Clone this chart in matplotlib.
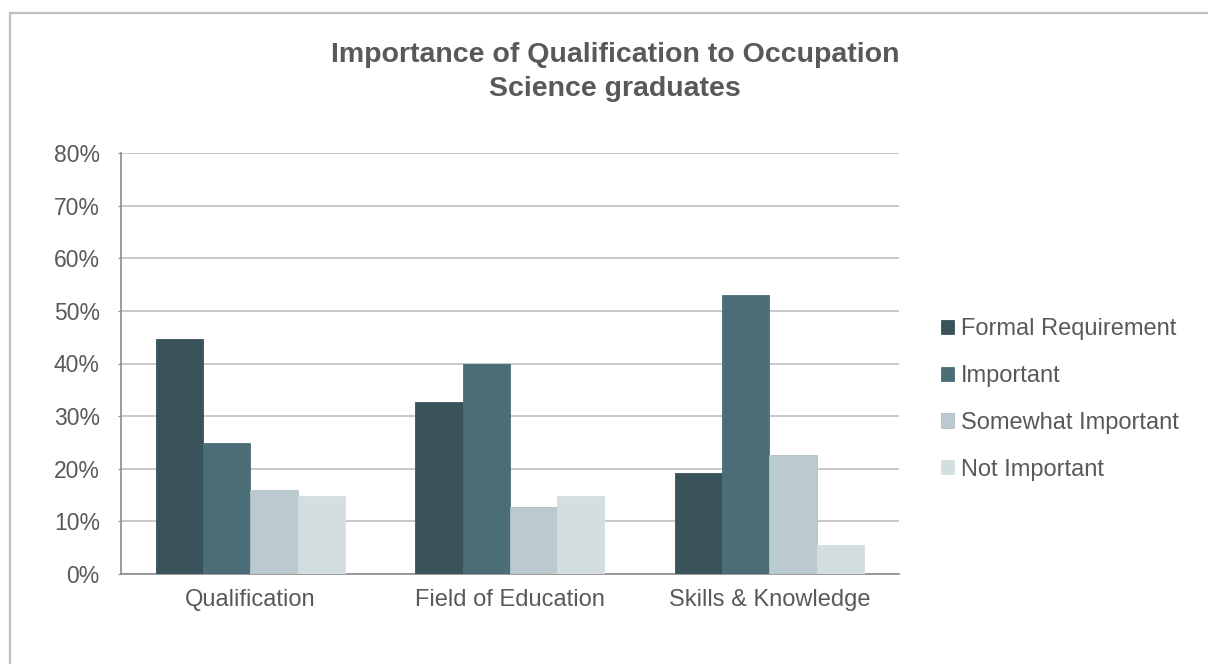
import matplotlib
matplotlib.use("Agg")
import matplotlib.pyplot as plt
import numpy as np
from matplotlib.patches import Rectangle
from matplotlib.ticker import PercentFormatter

categories = ["Qualification", "Field of Education", "Skills & Knowledge"]
series_names = ["Formal Requirement", "Important", "Somewhat Important", "Not Important"]
formal_requirement = [44.6, 32.7, 19.2]
important = [24.8, 39.9, 53.0]
somewhat_important = [16.0, 12.7, 22.6]
not_important = [14.8, 14.8, 5.5]
colors = ["#3A535B", "#4A6D78", "#BBCACF", "#D4DEE1"]
edge_colors = ["#3A535B", "#4A6D78", "#AFC1C7", "#D4DEE1"]
yticks = [0, 10, 20, 30, 40, 50, 60, 70, 80]

plt.rcParams["font.family"] = ["Liberation Sans", "DejaVu Sans"]
text_color = "#595959"

fig = plt.figure(figsize=(12.08, 6.64), dpi=100)
W, H = 1208, 664

# outer chart frame
fig.patches.append(Rectangle((10 / W, -0.1), 1.2, 1 - 13 / H + 0.1, transform=fig.transFigure,
                             fill=False, edgecolor="#BFBFBF", linewidth=1.6, zorder=0))

ax = fig.add_axes([120.7 / W, 1 - 574 / H, (899 - 120.7) / W, (574 - 153) / H])

data = [formal_requirement, important, somewhat_important, not_important]
x = np.arange(len(categories))
bw = 0.182
for i, (vals, name) in enumerate(zip(data, series_names)):
    ax.bar(x + (i - 1.5) * bw, vals, width=bw, color=colors[i], edgecolor=edge_colors[i],
           linewidth=0.6, label=name, zorder=3)

ax.set_xlim(-0.5, 2.5)
ax.set_ylim(0, 80)
ax.set_yticks(yticks)
ax.yaxis.set_major_formatter(PercentFormatter(decimals=0))
ax.set_xticks(x)
ax.set_xticklabels(categories)
ax.grid(axis="y", color="#BFBFBF", linewidth=1.2, zorder=0)
ax.set_axisbelow(True)
for s in ["top", "right"]:
    ax.spines[s].set_visible(False)
for s in ["left", "bottom"]:
    ax.spines[s].set_color("#8C8C8C")
    ax.spines[s].set_linewidth(1.2)
ax.tick_params(axis="y", length=2, color="#8C8C8C", pad=13, labelsize=16.5, labelcolor=text_color)
ax.tick_params(axis="x", length=0, pad=11, labelsize=17, labelcolor=text_color)

fig.text(615 / W, 1 - 72 / H, "Importance of Qualification to Occupation\nScience graduates",
         ha="center", va="center", fontsize=20.5, fontweight="bold", color=text_color,
         linespacing=1.36)

leg = fig.legend(loc="center left", bbox_to_anchor=(941 / W, 1 - 399.5 / H), frameon=False,
                 fontsize=17, handlelength=0.55, handleheight=0.55, handletextpad=0.3,
                 labelspacing=1.05, borderpad=0, borderaxespad=0)
for t in leg.get_texts():
    t.set_color(text_color)

fig.savefig("out.png", dpi=100, facecolor="white")
